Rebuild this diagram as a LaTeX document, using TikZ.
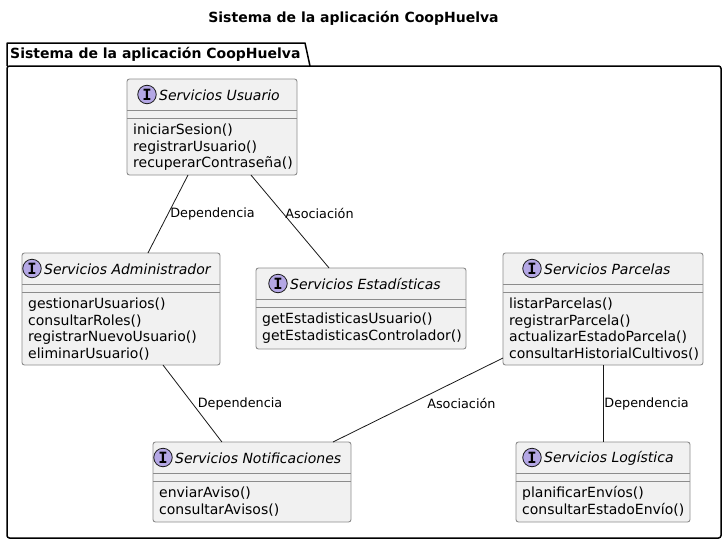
\documentclass[tikz,border=0pt]{standalone}
\usepackage{fontspec}
\setmainfont{DejaVu Sans}
\newfontfamily\iconfont{DejaVu Sans Mono}
\usetikzlibrary{calc}
\definecolor{boxfill}{HTML}{F1F1F1}
\definecolor{boxline}{HTML}{181818}
\definecolor{boxedge}{HTML}{8C8C8C}
\definecolor{iconfill}{HTML}{B4A7E5}
\tikzset{
  ibox/.style={draw=boxedge, line width=0.9pt, fill=boxfill, rounded corners=2.5pt, inner sep=0pt, outer sep=0pt},
  sepline/.style={draw=boxedge, line width=0.9pt},
  icon/.style={circle, draw=boxline, line width=0.8pt, fill=iconfill, minimum size=18.5pt, inner sep=0pt,
    font=\iconfont\bfseries\fontsize{15.5}{15.5}\selectfont},
  ititle/.style={anchor=west, inner sep=0pt, font=\itshape\fontsize{14}{16.5}\selectfont},
  imeth/.style={anchor=base west, inner sep=0pt, font=\fontsize{14}{16.5}\selectfont},
  conn/.style={draw=boxline, line width=0.8pt},
  lbl/.style={anchor=west, inner sep=2pt, font=\fontsize{12.8}{15}\selectfont},
}
\newcommand\ifbox[8]{%
  \node[ibox, minimum width={(#4-#2)*1pt}, minimum height={(#5-#3)*1pt}] (#1) at ({(#2+#4)/2},{(#3+#5)/2}) {};
  \draw[sepline] (#2,#3+31.5) -- (#4,#3+31.5);
  \draw[sepline] (#2,#3+39.5) -- (#4,#3+39.5);
  \node[icon] (#1-i) at (#6,#3+15.5) {I};
  \node[ititle] (#1-t) at (#6+12,#3+16) {#7};
  \node[imeth] (#1-m) at (#2+6,#3+55.5) {\begin{tabular}[t]{@{}l@{}}#8\end{tabular}};
}
\begin{document}
\begin{tikzpicture}[x=1pt,y=-1pt]
\useasboundingbox (0,0) rectangle (726,544);
% title
\node[font=\bfseries\fontsize{14}{16}\selectfont, inner sep=0pt] (title) at (353.5,18) {Sistema de la aplicación CoopHuelva};
% package
\draw[line width=1.5pt, line join=round] (7,66) -- (7,43) -- (305,43) -- (310,66);
\draw[line width=1.5pt, rounded corners=2.5pt] (7,66) rectangle (721,538);
\node[anchor=west, inner sep=0pt, font=\bfseries\fontsize{14}{16}\selectfont] (pkg) at (10,54.5) {Sistema de la aplicación CoopHuelva};
% interfaces
\ifbox{usr}{127}{79}{297}{175}{147}{Servicios Usuario}{iniciarSesion()\\registrarUsuario()\\recuperarContraseña()}
\ifbox{adm}{22}{253}{220}{365}{32}{Servicios Administrador}{gestionarUsuarios()\\consultarRoles()\\registrarNuevoUsuario()\\eliminarUsuario()}
\ifbox{est}{256}{268}{466}{349}{278}{Servicios Estadísticas}{getEstadisticasUsuario()\\getEstadisticasControlador()}
\ifbox{par}{503}{253}{703}{365}{532}{Servicios Parcelas}{listarParcelas()\\registrarParcela()\\actualizarEstadoParcela()\\consultarHistorialCultivos()}
\ifbox{not}{153}{442}{351}{522}{163}{Servicios Notificaciones}{enviarAviso()\\consultarAvisos()}
\ifbox{log}{516}{442}{690}{522}{532}{Servicios Logística}{planificarEnvíos()\\consultarEstadoEnvío()}
% connectors
\draw[conn] ($(usr.south west)!0.359!(usr.south east)$) -- node[lbl, pos=0.5] {Dependencia} ($(adm.north west)!0.636!(adm.north east)$);
\draw[conn] ($(usr.south west)!0.729!(usr.south east)$) -- node[lbl, pos=0.41] {Asociación} ($(est.north west)!0.348!(est.north east)$);
\draw[conn] ($(adm.south west)!0.712!(adm.south east)$) -- node[lbl, pos=0.5, xshift=3pt] {Dependencia} ($(not.north west)!0.348!(not.north east)$);
\draw[conn] ($(par.south west)!0.0625!(par.north west)$) -- node[lbl, pos=0.536, xshift=13pt] {Asociación} ($(not.north west)!0.909!(not.north east)$);
\draw[conn] (par.south) -- node[lbl, pos=0.5, inner sep=1pt] {Dependencia} (log.north);
\end{tikzpicture}
\end{document}
